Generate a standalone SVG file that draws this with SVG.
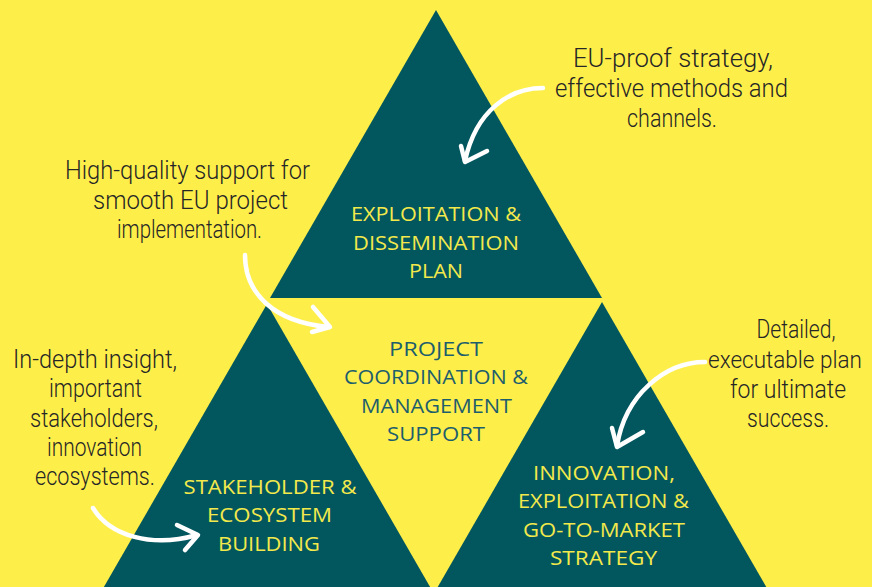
<svg xmlns="http://www.w3.org/2000/svg" width="872" height="587" viewBox="0 0 872 587">
<style>
.tri{fill:#02575F}
.lbl{font-family:"Open Sans","Liberation Sans",sans-serif;font-size:20px;fill:#F3E94B;text-anchor:middle}
.ctr{font-family:"Open Sans","Liberation Sans",sans-serif;font-size:20px;fill:#1D5E6C;text-anchor:middle}
.hw{font-family:"Roboto","Liberation Sans",sans-serif;font-weight:300;font-size:26px;fill:#262626;text-anchor:middle}
.arr{fill:none;stroke:#FFFFFF;stroke-width:4.5;stroke-linecap:round;stroke-linejoin:round}
</style>
<rect width="872" height="587" fill="#FEEE4A"/>
<g id="node-exploitation-dissemination">
<polygon class="tri" points="436,10 270,298 602,298"/>
<text class="lbl" x="436" y="221" textLength="170" lengthAdjust="spacingAndGlyphs">EXPLOITATION &amp;</text>
<text class="lbl" x="436" y="250" textLength="166" lengthAdjust="spacingAndGlyphs">DISSEMINATION</text>
<text class="lbl" x="436" y="278" textLength="54" lengthAdjust="spacingAndGlyphs">PLAN</text>
</g>
<g id="node-stakeholder">
<polygon class="tri" points="267,304 101,592 433,592"/>
<text class="lbl" x="270" y="494" textLength="173" lengthAdjust="spacingAndGlyphs">STAKEHOLDER &amp;</text>
<text class="lbl" x="269.5" y="522" textLength="125" lengthAdjust="spacingAndGlyphs">ECOSYSTEM</text>
<text class="lbl" x="269" y="551" textLength="102" lengthAdjust="spacingAndGlyphs">BUILDING</text>
</g>
<g id="node-innovation">
<polygon class="tri" points="602,302 436,590 768,590"/>
<text class="lbl" x="604" y="480" textLength="142" lengthAdjust="spacingAndGlyphs">INNOVATION,</text>
<text class="lbl" x="603.5" y="508" textLength="171" lengthAdjust="spacingAndGlyphs">EXPLOITATION &amp;</text>
<text class="lbl" x="604" y="537" textLength="162" lengthAdjust="spacingAndGlyphs">GO-TO-MARKET</text>
<text class="lbl" x="603.5" y="565" textLength="107" lengthAdjust="spacingAndGlyphs">STRATEGY</text>
</g>
<g id="node-coordination">
<text class="ctr" x="436" y="356" textLength="94" lengthAdjust="spacingAndGlyphs">PROJECT</text>
<text class="ctr" x="436" y="384" textLength="184" lengthAdjust="spacingAndGlyphs">COORDINATION &amp;</text>
<text class="ctr" x="436.5" y="413" textLength="151" lengthAdjust="spacingAndGlyphs">MANAGEMENT</text>
<text class="ctr" x="436" y="441" textLength="98" lengthAdjust="spacingAndGlyphs">SUPPORT</text>
</g>
<g id="note-eu-proof">
<text class="hw" x="673" y="67" textLength="200" lengthAdjust="spacingAndGlyphs">EU-proof strategy,</text>
<text class="hw" x="671.5" y="97" textLength="233" lengthAdjust="spacingAndGlyphs">effective methods and</text>
<text class="hw" x="672" y="127" textLength="90" lengthAdjust="spacingAndGlyphs">channels.</text>
</g>
<g id="note-high-quality">
<text class="hw" x="187.5" y="179" textLength="245" lengthAdjust="spacingAndGlyphs">High-quality support for</text>
<text class="hw" x="190.5" y="209" textLength="195" lengthAdjust="spacingAndGlyphs">smooth EU project</text>
<text class="hw" x="189.5" y="238" textLength="145" lengthAdjust="spacingAndGlyphs">implementation.</text>
</g>
<g id="note-in-depth">
<text class="hw" x="95" y="368" textLength="164" lengthAdjust="spacingAndGlyphs">In-depth insight,</text>
<text class="hw" x="95.5" y="397" textLength="93" lengthAdjust="spacingAndGlyphs">important</text>
<text class="hw" x="94" y="427" textLength="128" lengthAdjust="spacingAndGlyphs">stakeholders,</text>
<text class="hw" x="94.5" y="456" textLength="95" lengthAdjust="spacingAndGlyphs">innovation</text>
<text class="hw" x="95" y="485" textLength="120" lengthAdjust="spacingAndGlyphs">ecosystems.</text>
</g>
<g id="note-detailed">
<text class="hw" x="796" y="338" textLength="79" lengthAdjust="spacingAndGlyphs">Detailed,</text>
<text class="hw" x="785" y="368" textLength="154" lengthAdjust="spacingAndGlyphs" style="font-size:23px">executable plan</text>
<text class="hw" x="788" y="398" textLength="116" lengthAdjust="spacingAndGlyphs">for ultimate</text>
<text class="hw" x="788" y="427" textLength="82" lengthAdjust="spacingAndGlyphs">success.</text>
</g>
<g id="connectors">
<path class="arr" d="M543,88 C510,88 476,110 465,161"/>
<path class="arr" d="M461,146 L465,162 L487,151"/>
<path class="arr" d="M245,255 C245,292 272,322 329,327"/>
<path class="arr" d="M313,307 L330,327 L312,332"/>
<path class="arr" d="M93,508 C110,536 152,548 197,535"/>
<path class="arr" d="M177,525 L198,535 L185,550"/>
<path class="arr" d="M705,362 C665,362 625,395 617,446"/>
<path class="arr" d="M612,428 L617,447 L643,432"/>
</g>
</svg>
